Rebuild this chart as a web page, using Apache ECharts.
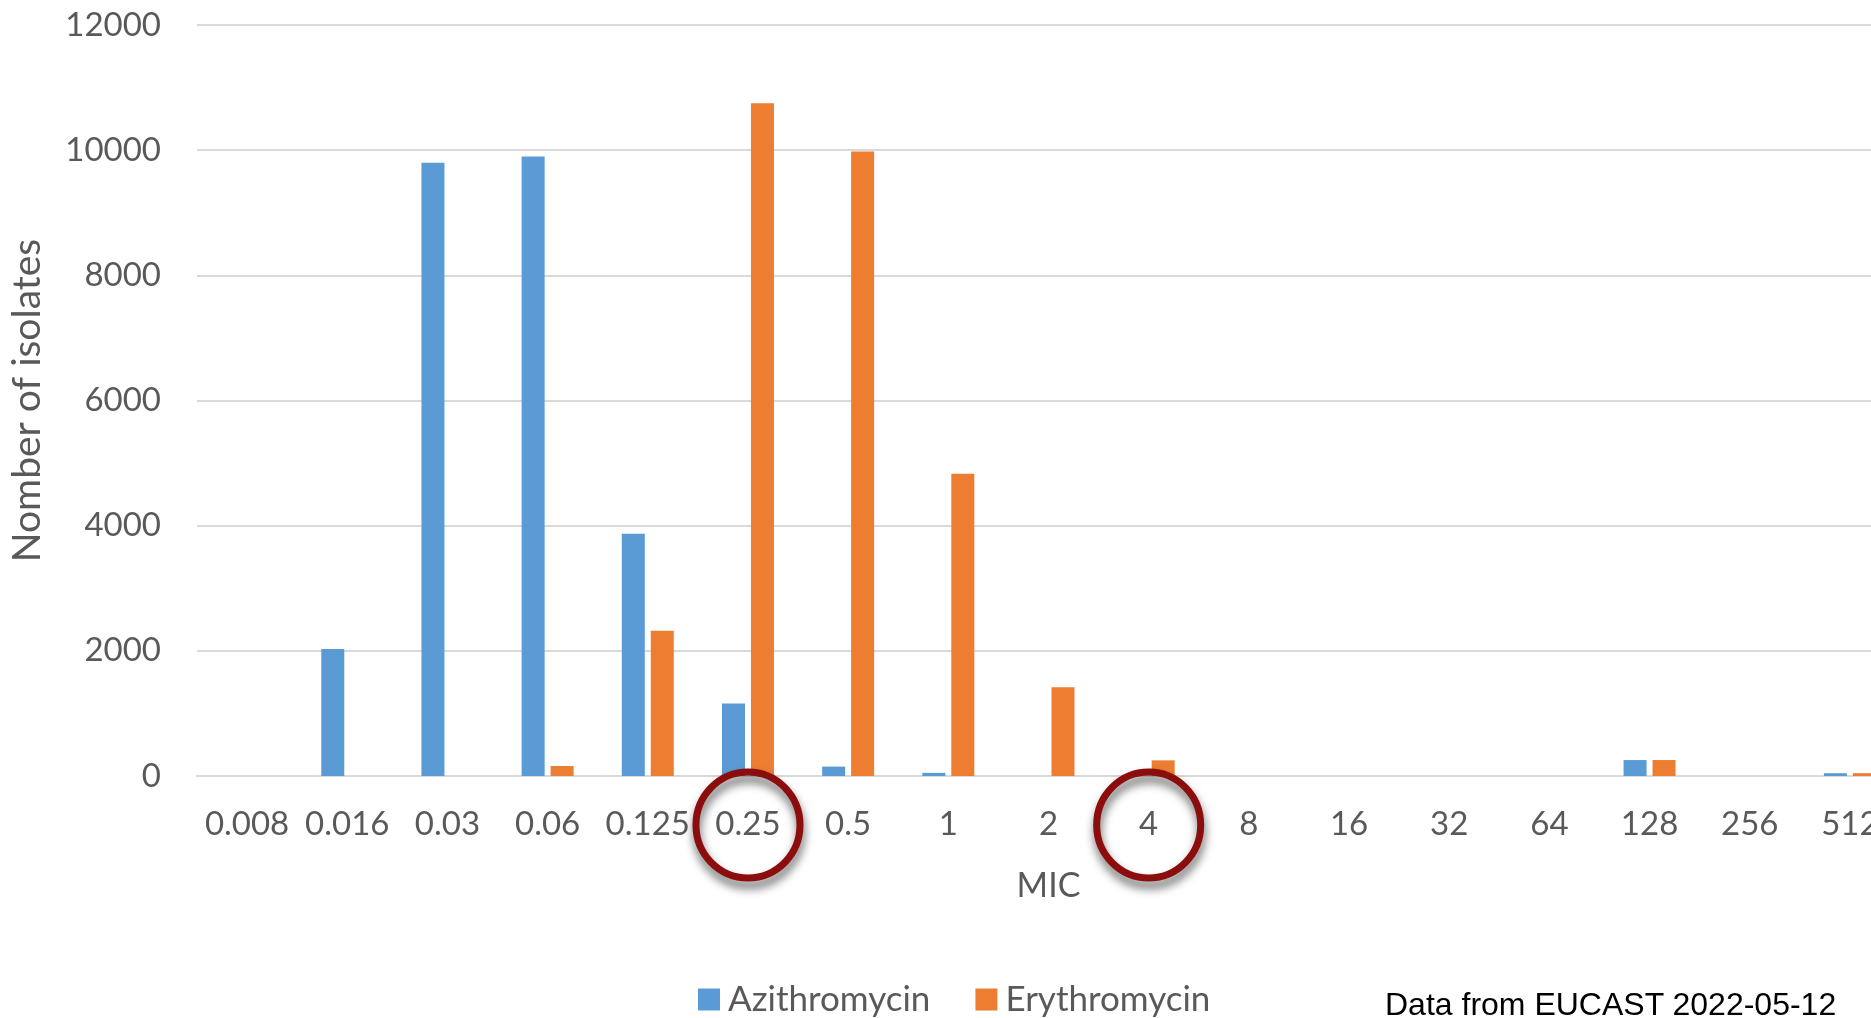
<!DOCTYPE html>
<html>
<head>
<meta charset="utf-8">
<title>MIC distribution</title>
<script src="https://cdn.jsdelivr.net/npm/echarts@6/dist/echarts.min.js"></script>
<style>
  html, body { margin: 0; padding: 0; background: #ffffff; }
  #chart { width: 1871px; height: 1018px; position: relative; }
  #source {
    position: absolute; left: 1385px; top: 986px;
    font-family: "Liberation Sans", Arial, sans-serif; font-size: 32px; color: #000;
    white-space: nowrap;
  }
</style>
</head>
<body>
<div id="chart"></div>
<div id="source">Data from EUCAST 2022-05-12</div>
<script>
// MIC dilution steps (mg/L)
const micLabels = ['0.008', '0.016', '0.03', '0.06', '0.125', '0.25', '0.5', '1', '2', '4',
                   '8', '16', '32', '64', '128', '256', '512'];

// Number of isolates per MIC step
const azithromycin = [0, 2030, 9800, 9900, 3870, 1160, 150, 50, 0, 0, 0, 0, 0, 0, 255, 0, 45];
const erythromycin = [0, 0, 0, 160, 2320, 10750, 9980, 4830, 1420, 250, 0, 0, 0, 0, 255, 0, 45];

// y-axis scale
const yMin = 0, yMax = 12000, yStep = 2000;

// MIC values ringed as breakpoints
const highlighted = ['0.25', '4'];

const FONT = 'Lato, "Open Sans", sans-serif';
const TEXT_GREY = '#595959';
const GRID_GREY = '#d9d9d9';

const chart = echarts.init(document.getElementById('chart'), null, { renderer: 'canvas' });

chart.setOption({
  animation: false,
  backgroundColor: '#ffffff',
  textStyle: { fontFamily: FONT },
  grid: { left: 197, top: 25, width: 1703, height: 751, containLabel: false, outerBoundsMode: 'none' },
  legend: {
    left: 693, top: 977,
    icon: 'rect', itemWidth: 22, itemHeight: 22, itemGap: 45,
    textStyle: { fontFamily: FONT, fontSize: 35, color: TEXT_GREY, padding: [0, 0, 0, 3] },
    data: ['Azithromycin', 'Erythromycin']
  },
  xAxis: {
    type: 'category',
    data: micLabels,
    name: 'MIC',
    nameLocation: 'middle',
    nameGap: 93,
    nameTextStyle: { fontFamily: FONT, fontSize: 34, color: TEXT_GREY },
    axisLine: { show: true, lineStyle: { color: GRID_GREY, width: 2 } },
    axisTick: { show: false },
    axisLabel: { fontFamily: FONT, fontSize: 33, color: TEXT_GREY, margin: 32, interval: 0 }
  },
  yAxis: {
    type: 'value',
    min: yMin, max: yMax, interval: yStep,
    name: 'Nomber of isolates',
    nameLocation: 'middle',
    nameGap: 150,
    nameTextStyle: { fontFamily: FONT, fontSize: 39, color: TEXT_GREY },
    axisLine: { show: false },
    axisTick: { show: false },
    splitLine: { lineStyle: { color: GRID_GREY, width: 2 } },
    axisLabel: {
      fontFamily: FONT, fontSize: 33, color: TEXT_GREY, margin: 36,
      formatter: function (v) { return String(v); }
    }
  },
  series: [
    {
      name: 'Azithromycin', type: 'bar', data: azithromycin,
      barWidth: 23, barGap: '26%',
      itemStyle: { color: '#5b9bd5' }
    },
    {
      name: 'Erythromycin', type: 'bar', data: erythromycin,
      barWidth: 23, barGap: '26%',
      itemStyle: { color: '#ed7d31' }
    }
  ]
});

// Ring the highlighted MIC labels, placed from the axis scales
const baseY = chart.convertToPixel({ yAxisIndex: 0 }, 0);
chart.setOption({
  graphic: highlighted.map(function (lab) {
    const cx = chart.convertToPixel({ xAxisIndex: 0 }, lab);
    return {
      type: 'ellipse',
      shape: { cx: cx, cy: baseY + 49, rx: 52, ry: 53 },
      style: {
        fill: 'none', stroke: '#8b0d0d', lineWidth: 7,
        shadowColor: 'rgba(0,0,0,0.6)', shadowBlur: 10, shadowOffsetX: 1, shadowOffsetY: 7
      },
      z: 100
    };
  })
});
</script>
</body>
</html>
